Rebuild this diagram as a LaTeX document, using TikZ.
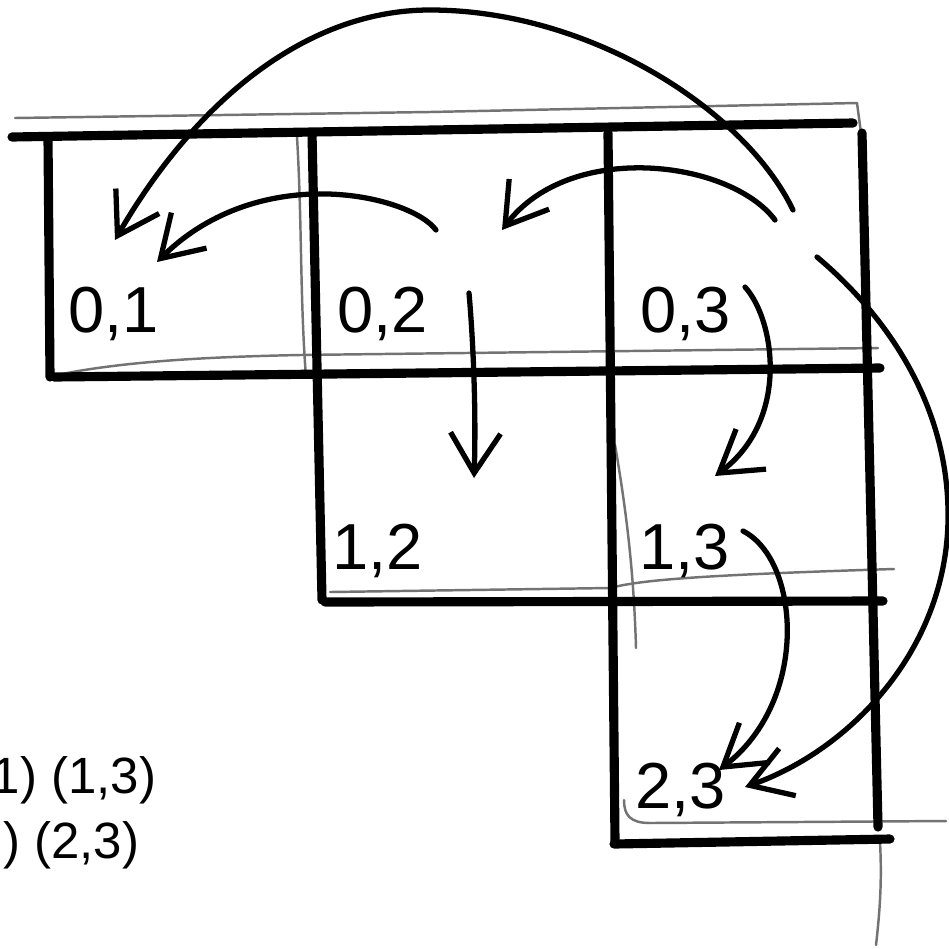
\documentclass[tikz,border=0pt]{standalone}
\usepackage{fontspec}
\setmainfont{Liberation Sans}
\usetikzlibrary{arrows.meta}

\begin{document}
\begin{tikzpicture}[x=0.01cm, y=-0.01cm, line cap=round, line join=round]
  \tikzset{
    gridline/.style={line width=2.6pt},
    sketch/.style={black!55, line width=0.7pt},
    jump/.style={line width=1.5pt, -{Straight Barb[length=4mm, width=5mm, line width=1.5pt]}},
    cell/.style={anchor=base west, inner sep=0pt, font=\fontsize{18.5}{22}\selectfont},
    pair/.style={anchor=base east, inner sep=0pt, font=\fontsize{14.5}{17}\selectfont}
  }
  \clip (0,0) rectangle (949,948);

  % Faint construction lines
  \draw[sketch] (15,118) -- (430,112) -- (857,103) -- (861,133);
  \draw[sketch] (297,137) .. controls (302,220) and (300,300) .. (306,377);
  \draw[sketch] (57,375) .. controls (120,362) and (200,357) .. (300,355) -- (878,348);
  \draw[sketch] (615,445) .. controls (628,520) and (634,580) .. (636,648);
  \draw[sketch] (330,592) -- (610,588) .. controls (640,580) and (700,575) .. (894,569);
  \draw[sketch] (624,800) .. controls (624,815) and (630,823) .. (650,823) -- (946,821);
  \draw[sketch] (880,842) .. controls (882,880) and (880,910) .. (876,945);

  % Heavy cell borders
  \draw[gridline] (12,137) -- (853,123);
  \draw[gridline] (48,137) -- (50,377);
  \draw[gridline] (54,377) -- (880,368);
  \draw[gridline] (312,133) -- (322,600);
  \draw[gridline] (608,133) -- (615,842);
  \draw[gridline] (862,133) -- (878,827);
  \draw[gridline] (325,602) -- (883,601);
  \draw[gridline] (614,844) -- (890,839);

  % Cell labels
  \node[cell] (c01) at (68,332) {0,1};
  \node[cell] (c02) at (337,332) {0,2};
  \node[cell] (c03) at (640,332) {0,3};
  \node[cell] (c12) at (332,569) {1,2};
  \node[cell] (c13) at (639,569) {1,3};
  \node[cell] (c23) at (635,808) {2,3};

  % Pairs at the lower left
  \node[pair] (p13) at (157,793) {1) (1,3)};
  \node[pair] (p23) at (140,858) {) (2,3)};

  % Arrow ends
  \coordinate (s03far) at (793,210);
  \coordinate (e01far) at (115,240);
  \coordinate (s02) at (436,230);
  \coordinate (e01) at (157,262);
  \coordinate (s03) at (775,220);
  \coordinate (e02) at (502,230);
  \coordinate (s02down) at (469,293);
  \coordinate (e12) at (474,478);
  \coordinate (s03down) at (745,287);
  \coordinate (e13) at (715,476);
  \coordinate (s13) at (743,531);
  \coordinate (e23) at (719,770);
  \coordinate (s03out) at (817,257);
  \coordinate (e23out) at (745,787);

  % Arrows
  \draw[jump] (s03far) .. controls (745,110) and (590,10) .. (430,10)
                       .. controls (300,10) and (190,110) .. (e01far);
  \draw[jump] (s02) .. controls (410,195) and (260,160) .. (e01);
  \draw[jump] (s03) .. controls (730,160) and (570,140) .. (e02);
  \draw[jump] (s02down) .. controls (474,350) and (476,420) .. (e12);
  \draw[jump] (s03down) .. controls (775,320) and (790,420) .. (e13);
  \draw[jump] (s13) .. controls (800,560) and (810,700) .. (e23);
  \draw[jump] (s03out) .. controls (880,310) and (950,400) .. (948,520)
                       .. controls (946,650) and (850,750) .. (e23out);
\end{tikzpicture}
\end{document}
